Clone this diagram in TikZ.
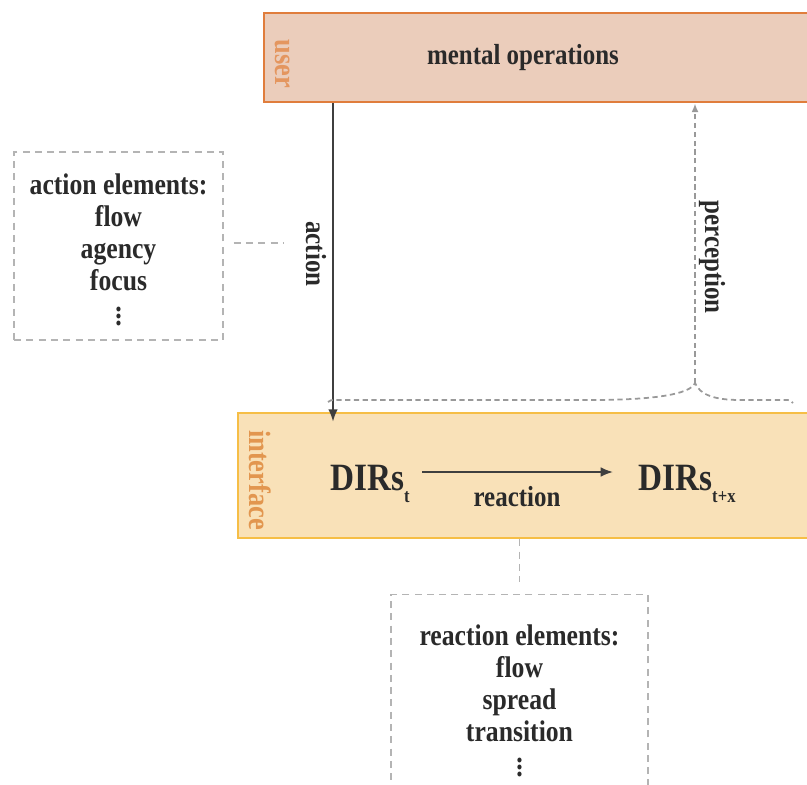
\documentclass[tikz,border=0pt]{standalone}
\usepackage{fontspec}
\setmainfont[FakeStretch=0.86]{Liberation Serif}
\usepackage{xcolor,tikz}
\usetikzlibrary{calc,positioning,arrows.meta}
\tikzset{>={Latex[length=7pt,width=5.5pt]}}
\definecolor{userfill}{HTML}{EBCDBB}
\definecolor{userline}{HTML}{E07D3C}
\definecolor{userlabel}{HTML}{E4965F}
\definecolor{ifacefill}{HTML}{F9E1B8}
\definecolor{ifaceline}{HTML}{F6BE46}
\definecolor{ifacelabel}{HTML}{E2964F}
\definecolor{textdark}{HTML}{2A2A2A}
\definecolor{boxgray}{HTML}{B4B4B4}
\newcommand{\dirsub}[1]{\raisebox{-7pt}{\fontsize{11pt}{11pt}\selectfont #1}}
\tikzset{
  userbox/.style={draw=userline,fill=userfill,line width=1.6pt},
  ifacebox/.style={draw=ifaceline,fill=ifacefill,line width=1.6pt},
  elembox/.style={draw=boxgray,dash pattern=on 4pt off 3pt,line width=0.8pt},
  elemtext/.style={align=center,inner sep=0pt,font=\fontsize{17pt}{18.2pt}\selectfont\bfseries},
  sidelabel/.style={rotate=-90,font=\fontsize{17.5pt}{18pt}\selectfont\bfseries},
  midlabel/.style={font=\fontsize{16.5pt}{18pt}\selectfont\bfseries},
  dirlabel/.style={inner sep=0pt,font=\fontsize{22pt}{24pt}\selectfont\bfseries},
  flowarrow/.style={->,draw=textdark!90,line width=1pt},
  percline/.style={draw=gray!80,densely dashed,line width=1pt},
  linkline/.style={draw=boxgray,dash pattern=on 4pt off 3pt,line width=0.8pt}
}
\begin{document}
\begin{tikzpicture}[x=0.02cm,y=-0.02cm,text=textdark]
\clip (0,0) rectangle (807,784);
% user and interface layers
\node[userbox,minimum width=11.32cm,minimum height=1.78cm] (user) at (547,57.5) {};
\node[ifacebox,minimum width=11.84cm,minimum height=2.5cm] (iface) at (534,475.5) {};
\node[sidelabel,text=userlabel] (userlbl) at (283,64) {user};
\node[sidelabel,text=ifacelabel] (ifacelbl) at (260,480) {interface};
\node[midlabel] (mental) at (523,58) {mental operations};
% element boxes
\node[elembox,minimum width=4.18cm,minimum height=3.76cm] (actbox) at (118.5,246) {};
\node[elemtext,below=0.44cm of actbox.north] (acttext) {action elements:\\flow\\agency\\focus\\[2pt]$\vdots$};
\node[elembox,minimum width=5.14cm,minimum height=4.6cm,anchor=north] (reacbox) at (519.5,594) {};
\node[elemtext,below=0.6cm of reacbox.north] (reactext) {reaction elements:\\flow\\spread\\transition\\[2pt]$\vdots$};
% DIRs
\node[dirlabel,anchor=base west] (dirt) at (330,490) {DIRs\dirsub{t}};
\node[dirlabel,anchor=base west] (dirtx) at (638,490) {DIRs\dirsub{t+x}};
\draw[flowarrow,shorten <=0.24cm,shorten >=0.5cm] ([yshift=0.36cm]dirt.base east) -- ([yshift=0.36cm]dirtx.base west);
\node[midlabel] (reaclbl) at (517,497) {reaction};
% action and perception
\coordinate (actx) at (333,0);
\draw[flowarrow,shorten >=-0.2cm] (user.south -| actx) -- (iface.north -| actx);
\node[midlabel,rotate=-90] (actlbl) at (316,254) {action};
\coordinate (bl) at (328,402);
\coordinate (br) at (793,403);
\coordinate (peak) at (695,383);
\draw[percline] (bl) .. controls (330,400) .. (340,400) -- (590,400)
  .. controls (650,400) and (690,395) .. (peak)
  .. controls (700,395) and (715,400) .. (740,400) -- (785,400)
  .. controls (790,400) .. (br);
\draw[percline,-{Latex[length=5pt,width=4pt]}] (peak) -- (user.south -| peak);
\node[midlabel,rotate=-90] (perclbl) at (712,257) {perception};
% links to element boxes
\coordinate (actlink) at (283,243);
\draw[linkline,shorten <=0.2cm] (actbox.east |- actlink) -- (actlink);
\draw[linkline,shorten >=0.24cm] (iface.south -| reacbox.north) -- (reacbox.north);
\end{tikzpicture}
\end{document}
